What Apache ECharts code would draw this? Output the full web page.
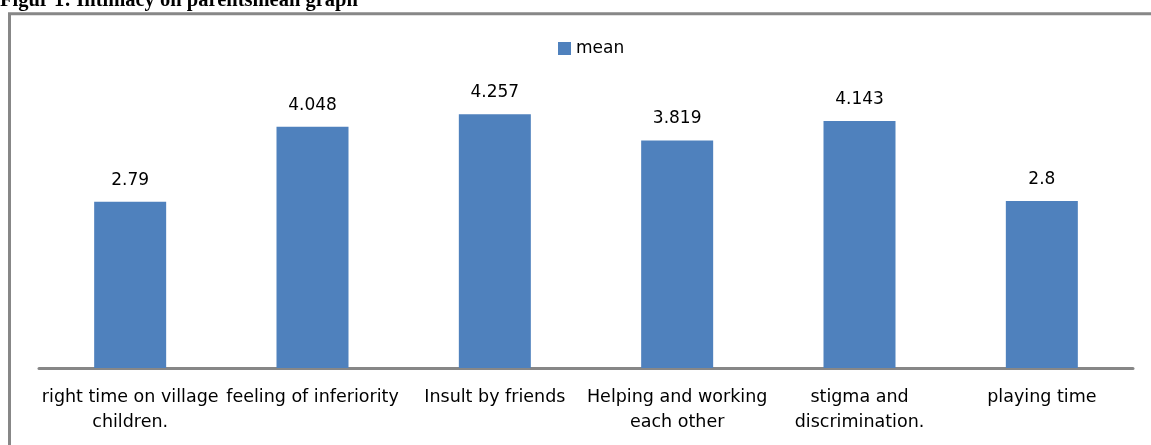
<!DOCTYPE html>
<html>
<head>
<meta charset="utf-8">
<script src="https://cdn.jsdelivr.net/npm/echarts@6/dist/echarts.min.js"></script>
<style>
html,body{margin:0;padding:0;background:#fff;}
#chart{width:1151px;height:445px;}
</style>
</head>
<body>
<div id="chart"></div>
<script>
const titleText = 'Figur 1: Intimacy on parentsmean graph';
const seriesName = 'mean';
const categories = [
  'right time on village\nchildren.',
  'feeling of inferiority',
  'Insult by friends',
  'Helping and working\neach other',
  'stigma and\ndiscrimination.',
  'playing time'
];
const meanValues = [2.79, 4.048, 4.257, 3.819, 4.143, 2.8];
const valueLabels = ['2.79', '4.048', '4.257', '3.819', '4.143', '2.8'];

const chart = echarts.init(document.getElementById('chart'), null, {renderer: 'canvas'});
const labelFont = '"DejaVu Sans", "Liberation Sans", sans-serif';
chart.setOption({
  animation: false,
  backgroundColor: '#ffffff',
  graphic: [
    {
      type: 'rect',
      shape: {x: 9.5, y: 13.8, width: 1200, height: 500},
      style: {fill: 'none', stroke: '#878787', lineWidth: 3},
      z: 0
    },
    {
      type: 'text',
      x: 0,
      y: 1,
      style: {
        text: titleText,
        font: 'bold 20.5px "Liberation Serif", "DejaVu Serif", serif',
        fill: '#000000',
        verticalAlign: 'middle',
        align: 'left'
      },
      z: 10
    }
  ],
  legend: {
    data: [seriesName],
    left: 553,
    top: 35,
    itemWidth: 13,
    itemHeight: 13,
    itemGap: 5,
    icon: 'rect',
    textStyle: {fontFamily: labelFont, fontSize: 17, color: '#000'}
  },
  grid: {left: 39, right: 18, top: 70, bottom: 77, containLabel: false},
  xAxis: {
    type: 'category',
    data: categories,
    axisLine: {show: true, lineStyle: {color: '#878787', width: 3}},
    axisTick: {show: false},
    axisLabel: {
      interval: 0,
      fontFamily: labelFont,
      fontSize: 17.5,
      color: '#000',
      margin: 17,
      lineHeight: 25,
      align: 'center'
    }
  },
  yAxis: {
    type: 'value',
    min: 0,
    max: 5,
    interval: 1,
    show: false,
    splitLine: {show: false}
  },
  series: [{
    name: seriesName,
    type: 'bar',
    data: meanValues,
    barWidth: 72,
    itemStyle: {color: '#4F81BD'},
    label: {
      show: true,
      position: 'top',
      distance: 13,
      fontFamily: labelFont,
      fontSize: 17,
      color: '#000',
      formatter: p => valueLabels[p.dataIndex]
    }
  }]
});
</script>
</body>
</html>
